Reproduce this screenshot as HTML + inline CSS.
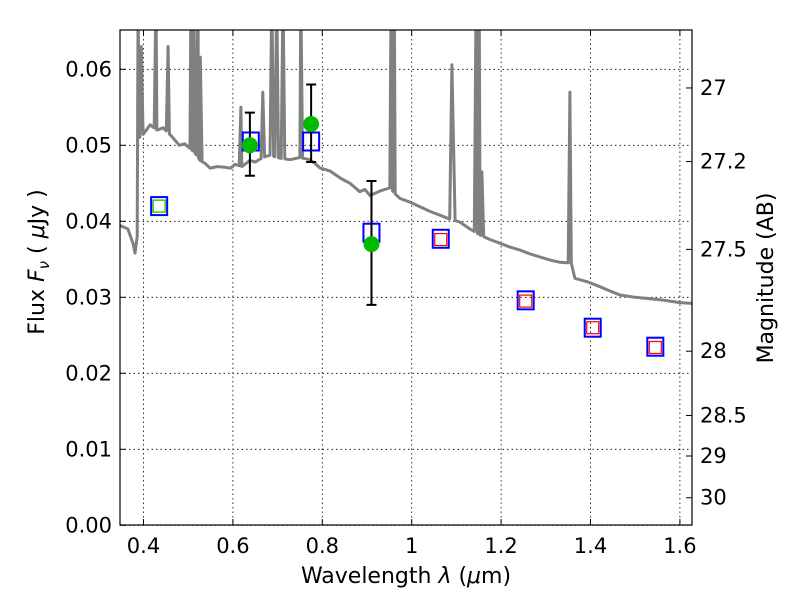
<!DOCTYPE html>
<html><head><meta charset="utf-8"><style>
body{margin:0;background:#fff;}
svg text{font-family:"DejaVu Sans","Liberation Sans",sans-serif;fill:#000;}
</style></head><body>
<svg id="chart" width="800" height="600" xmlns="http://www.w3.org/2000/svg">
<defs><clipPath id="plotclip"><rect x="120" y="30" width="572" height="495"/></clipPath></defs>
<rect x="0" y="0" width="800" height="600" fill="#fff"/>
<g id="grid"></g>
<g id="spec" clip-path="url(#plotclip)"></g>
<g id="marks" clip-path="url(#plotclip)"></g>
<rect x="120" y="30" width="572" height="495" fill="none" stroke="#000" stroke-width="1.2"/>
<g id="axes"></g>
<text x="406" y="583" font-size="22" text-anchor="middle">Wavelength  <tspan font-style="italic">λ</tspan> (<tspan font-style="italic">μ</tspan>m)</text>
<text transform="translate(44,262) rotate(-90)" font-size="22" text-anchor="middle">Flux  <tspan font-style="italic">F</tspan><tspan font-style="italic" font-size="15" dy="5">ν</tspan><tspan dy="-5">  (  </tspan><tspan font-style="italic">μ</tspan>Jy )</text>
<text transform="translate(773,278) rotate(-90)" font-size="22" text-anchor="middle">Magnitude (AB)</text>
</svg>
<script>
const xTicks=[0.4,0.6,0.8,1.0,1.2,1.4,1.6];
const xTickLabels=["0.4","0.6","0.8","1","1.2","1.4","1.6"];
const yTicks=[0,0.01,0.02,0.03,0.04,0.05,0.06];
const yTickLabels=["0.00","0.01","0.02","0.03","0.04","0.05","0.06"];
const magTicks=[27,27.2,27.5,28,28.5,29,30];
const magTickLabels=["27","27.2","27.5","28","28.5","29","30"];
const contLam=[0.345,0.365,0.377,0.381,0.386,0.390,0.400,0.415,0.430,0.444,0.458,0.470,0.480,0.492,0.504,0.515,0.527,0.538,0.549,0.565,0.582,0.595,0.605,0.620,0.638,0.650,0.661,0.672,0.683,0.705,0.728,0.750,0.772,0.784,0.795,0.818,0.840,0.862,0.884,0.895,0.907,0.930,0.951,0.963,0.974,0.997,1.019,1.041,1.063,1.085,1.108,1.130,1.153,1.175,1.198,1.220,1.243,1.265,1.287,1.310,1.332,1.357,1.365,1.395,1.421,1.445,1.466,1.500,1.533,1.565,1.600,1.630];
const contFlux=[0.0395,0.0390,0.0370,0.0358,0.0380,0.0510,0.0515,0.0527,0.0520,0.0523,0.0515,0.0507,0.0500,0.0502,0.0496,0.0490,0.0480,0.0476,0.0470,0.0472,0.0471,0.0470,0.0475,0.0472,0.0480,0.0478,0.0482,0.0485,0.0487,0.0483,0.0481,0.0484,0.0481,0.0476,0.0470,0.0466,0.0457,0.0450,0.0439,0.0442,0.0434,0.0440,0.0444,0.0436,0.0430,0.0425,0.0419,0.0413,0.0408,0.0403,0.0399,0.0390,0.0382,0.0376,0.0371,0.0366,0.0362,0.0357,0.0353,0.0349,0.0346,0.0345,0.0325,0.0320,0.0314,0.0308,0.0303,0.0300,0.0298,0.0296,0.0293,0.0292];
const lineLam=[0.388,0.395,0.428,0.455,0.506,0.513,0.522,0.527,0.618,0.667,0.687,0.698,0.712,0.752,0.954,0.961,1.090,1.144,1.151,1.157,1.354];
const linePeak=[0.07,0.063,0.07,0.063,0.07,0.07,0.07,0.0616,0.055,0.057,0.07,0.07,0.07,0.07,0.07,0.07,0.0606,0.07,0.07,0.0465,0.057];
const boxLam=[0.435,0.64,0.775,0.91,1.065,1.255,1.405,1.545];
const boxFlux=[0.042,0.0505,0.0505,0.0385,0.0377,0.0296,0.026,0.0235];
const greenBoxLam=[0.435];
const greenBoxFlux=[0.042];
const redBoxLam=[1.065,1.255,1.405,1.545];
const redBoxFlux=[0.0376,0.0295,0.026,0.0234];
const ptLam=[0.638,0.775,0.91];
const ptFlux=[0.050,0.0528,0.037];
const ptErrLo=[0.046,0.0478,0.029];
const ptErrHi=[0.0543,0.058,0.0453];

const NS="http://www.w3.org/2000/svg";
const X=v=>411.7+(v-1)*447;
const Y=f=>525.3-f*7600;
const M=m=>Y(Math.pow(10,(23.9-m)/2.5));
function mk(tag,attrs,parent){const e=document.createElementNS(NS,tag);for(const k in attrs)e.setAttribute(k,attrs[k]);document.getElementById(parent).appendChild(e);return e;}

xTicks.forEach((t,i)=>{
  let g=mk('line',{x1:X(t),x2:X(t),y1:30,y2:525,stroke:'#000','stroke-width':0.8,'stroke-dasharray':'1.5,3'},'grid');
  
  
  mk('line',{x1:X(t),x2:X(t),y1:525,y2:519,stroke:'#000'},'axes');
  mk('line',{x1:X(t),x2:X(t),y1:30,y2:36,stroke:'#000'},'axes');
  let l=mk('text',{x:X(t),y:553,'font-size':21,'text-anchor':'middle'},'axes');
  l.textContent=xTickLabels[i];
  
  
});
yTicks.forEach((t,i)=>{
  let g=mk('line',{x1:120,x2:692,y1:Y(t),y2:Y(t),stroke:'#000','stroke-width':0.8,'stroke-dasharray':'1.5,3'},'grid');
  
  
  mk('line',{x1:120,x2:126,y1:Y(t),y2:Y(t),stroke:'#000'},'axes');
  let l=mk('text',{x:112,y:Y(t)+7,'font-size':21,'text-anchor':'end'},'axes');
  l.textContent=yTickLabels[i];
  
  
});
magTicks.forEach((t,i)=>{
  mk('line',{x1:686,x2:692,y1:M(t),y2:M(t),stroke:'#000'},'axes');
  let l=mk('text',{x:700,y:M(t)+7,'font-size':21},'axes');
  l.textContent=magTickLabels[i];
  
  
});

function cont(l){for(let i=0;i<contLam.length-1;i++){if(l>=contLam[i]&&l<=contLam[i+1]){return contFlux[i]+(contFlux[i+1]-contFlux[i])*(l-contLam[i])/(contLam[i+1]-contLam[i]);}}return contFlux[contFlux.length-1];}
let pts=contLam.map((l,i)=>[l,contFlux[i]]);
lineLam.forEach((l,i)=>{const w=(l>1.05&&l<1.1)?0.007:0.004;pts.push([l-w,cont(l-w)]);pts.push([l,linePeak[i]]);pts.push([l+w,cont(l+w)]);});
pts.sort((a,b)=>a[0]-b[0]);
let sp=mk('path',{d:'M'+pts.map(p=>X(p[0]).toFixed(1)+','+Y(p[1]).toFixed(1)).join('L'),fill:'none',stroke:'#808080','stroke-width':3,'stroke-linejoin':'round'},'spec');



boxLam.forEach((l,i)=>{
  let r=mk('rect',{x:X(l)-8,y:Y(boxFlux[i])-9,width:16,height:18,fill:'none',stroke:'#0000ff','stroke-width':2},'marks');
  
  
});
greenBoxLam.forEach((l,i)=>{
  let r=mk('rect',{x:X(l)-6,y:Y(greenBoxFlux[i])-6,width:12,height:12,fill:'none',stroke:'#00bb00','stroke-width':1.2},'marks');
  
  
});
redBoxLam.forEach((l,i)=>{
  let r=mk('rect',{x:X(l)-6,y:Y(redBoxFlux[i])-6,width:12,height:12,fill:'none',stroke:'#ff0000','stroke-width':1.2},'marks');
  
  
});
ptLam.forEach((l,i)=>{
  let e=mk('path',{d:`M${X(l)},${Y(ptErrLo[i])}V${Y(ptErrHi[i])}M${X(l)-5},${Y(ptErrLo[i])}h10M${X(l)-5},${Y(ptErrHi[i])}h10`,stroke:'#000','stroke-width':2,fill:'none'},'marks');
  
  
  let c=mk('circle',{cx:X(l),cy:Y(ptFlux[i]),r:8,fill:'#00bb00'},'marks');
  
  
});
</script>
</body></html>
